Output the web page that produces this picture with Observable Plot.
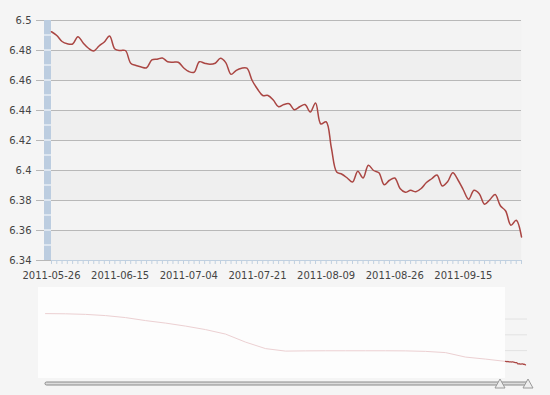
<!DOCTYPE html>
<html><head><meta charset="utf-8">
<script src="https://cdn.jsdelivr.net/npm/d3@7"></script>
<script src="https://cdn.jsdelivr.net/npm/@observablehq/plot@0.6"></script>
<style>
html,body{margin:0;padding:0;background:#f5f5f5;}
svg{display:block;}
</style></head><body><div id="c"></div>
<script>
// Daily rate, 2011-05-26 .. 2011-09-30 (trading days)
const rates = [
6.4925,6.4900,6.4860,6.4845,6.4843,6.4892,6.4850,6.4815,6.4797,6.4830,
6.4857,6.4897,6.4810,6.4800,6.4800,6.4715,6.4700,6.4690,6.4685,6.4737,
6.4742,6.4750,6.4725,6.4722,6.4722,6.4685,6.4660,6.4655,6.4725,6.4715,
6.4708,6.4715,6.4748,6.4719,6.4641,6.4668,6.4682,6.4682,6.4600,6.4543,
6.4500,6.4500,6.4470,6.4425,6.4440,6.4445,6.4405,6.4425,6.4440,6.4390,
6.4450,6.4310,6.4325,6.4150,6.3990,6.3975,6.3950,6.3923,6.3995,6.3950,
6.4035,6.4000,6.3985,6.3905,6.3935,6.3950,6.3880,6.3855,6.3868,6.3858,
6.3880,6.3920,6.3945,6.3970,6.3897,6.3925,6.3985,6.3935,6.3870,6.3808,
6.3868,6.3845,6.3775,6.3805,6.3840,6.3765,6.3730,6.3635,6.3668,6.3557
];
const tickIndex = [0,13,26,39,52,65,78];
const tickLabels = ["2011-05-26","2011-06-15","2011-07-04","2011-07-21","2011-08-09","2011-08-26","2011-09-15"];
const yTicks = [6.34,6.36,6.38,6.40,6.42,6.44,6.46,6.48,6.50];
const yMinor = [6.35,6.36,6.37,6.38,6.39,6.40,6.41,6.42,6.43,6.44,6.45,6.46,6.47,6.48,6.49];
const bandLow = [6.34,6.38,6.42,6.46];
const bandHigh = [6.36,6.40,6.44,6.48];
// navigator: long history (coarse samples)
const navRates = [8.308,8.300,8.278,8.232,8.156,8.042,7.947,7.833,7.700,7.529,7.224,6.977,
                  6.882,6.890,6.894,6.894,6.894,6.894,6.890,6.871,6.825,6.654,6.578,6.490];
const navGrid = [6.9,7.5,8.1];

const font = "'DejaVu Sans', Verdana, sans-serif";
const W = 550;
const pts = rates.map((v,i)=>({i,v}));
const bands = bandLow.map((lo,k)=>({lo, hi: bandHigh[k]}));

const main = Plot.plot({
  width: W, height: 285,
  marginLeft: 51, marginRight: 29, marginTop: 20, marginBottom: 25,
  style: {background: "transparent", fontFamily: font, fontSize: "10px", color: "#444"},
  x: {domain: [0, rates.length - 1]},
  y: {domain: [6.34, 6.5]},
  marks: [
    Plot.frame({fill: "#f3f3f3", stroke: "none"}),
    Plot.rect(bands, {y1: "lo", y2: "hi", fill: "#efefef"}),
    Plot.ruleY(yTicks.slice(1), {stroke: "#b8b8b8"}),
    Plot.axisY(yTicks, {tickSize: 15, tickPadding: 5, stroke: "#b8b8b8", fill: "#444",
      tickFormat: d => String(+d.toFixed(2)), label: null}),
    Plot.ruleY([6.34], {stroke: "#c0d0e0"}),
    Plot.axisX(d3.range(rates.length), {tickSize: 4, stroke: "#c0d0e0", tickFormat: () => "", label: null}),
    Plot.axisX(tickIndex, {tickSize: 0, tickPadding: 11, fill: "#444",
      tickFormat: d => tickLabels[tickIndex.indexOf(d)], label: null}),
    Plot.line(pts, {x: "i", y: "v", stroke: "#AA4643", strokeWidth: 1.5, curve: "catmull-rom"})
  ]
});

// blue axis band with white minor ticks
{
  const sy = main.scale("y");
  const yTop = sy.apply(6.5), yBot = sy.apply(6.34);
  const ns = "http://www.w3.org/2000/svg";
  const g = document.createElementNS(ns, "g");
  const r = document.createElementNS(ns, "rect");
  r.setAttribute("x", 44); r.setAttribute("y", yTop);
  r.setAttribute("width", 7); r.setAttribute("height", yBot - yTop);
  r.setAttribute("fill", "#bccde0");
  g.appendChild(r);
  for (const v of yMinor) {
    const l = document.createElementNS(ns, "line");
    const y = sy.apply(v);
    l.setAttribute("x1", 44); l.setAttribute("x2", 51);
    l.setAttribute("y1", y); l.setAttribute("y2", y);
    l.setAttribute("stroke", "#ffffff");
    g.appendChild(l);
  }
  const lineG = main.querySelector('[aria-label="line"]');
  main.insertBefore(g, lineG);
}

const navN = navRates.length;
const navPts = navRates.map((v,t)=>({t,v}));
const selPts = rates.map((v,i)=>({t: navN - 1 + i/(rates.length - 1), v}));

const nav = Plot.plot({
  width: W, height: 110,
  marginLeft: 38, marginRight: 22, marginTop: 2, marginBottom: 17,
  style: {background: "transparent", fontFamily: font, fontSize: "10px"},
  x: {domain: [0, navN], range: [45, 525], axis: null},
  y: {domain: [5.84, 9.30], axis: null},
  marks: [
    Plot.ruleY(navGrid, {x1: () => navN - 1, x2: () => navN + 0.1, stroke: "#e2e2e2"}),
    Plot.line(navPts, {x: "t", y: "v", stroke: "#ecd0d2", strokeWidth: 1}),
    Plot.line(selPts, {x: "t", y: "v", stroke: "#AA4643", strokeWidth: 1.2})
  ]
});

{
  const sx = nav.scale("x");
  const ns = "http://www.w3.org/2000/svg";
  const bg = document.createElementNS(ns, "rect");
  bg.setAttribute("x", 38); bg.setAttribute("y", 2);
  bg.setAttribute("width", sx.apply(navN - 1) - 38); bg.setAttribute("height", 91);
  bg.setAttribute("fill", "#fdfdfd");
  nav.insertBefore(bg, nav.querySelector("g"));
  const s = d3.select(nav);
  s.append("rect").attr("x", 45).attr("y", 97).attr("width", 483).attr("height", 3)
    .attr("rx", 1.5).attr("fill", "#dcdcdc").attr("stroke", "#8a8a8a").attr("stroke-width", 1);
  for (const hx of [500, 528]) {
    s.append("path").attr("d", `M${hx},94 L${hx+5},103 L${hx-5},103 Z`)
      .attr("fill", "#eeeeee").attr("stroke", "#9a9a9a").attr("stroke-width", 1)
      .attr("stroke-linejoin", "round");
  }
}

const c = document.getElementById("c");
c.appendChild(main);
c.appendChild(nav);
</script></body></html>
